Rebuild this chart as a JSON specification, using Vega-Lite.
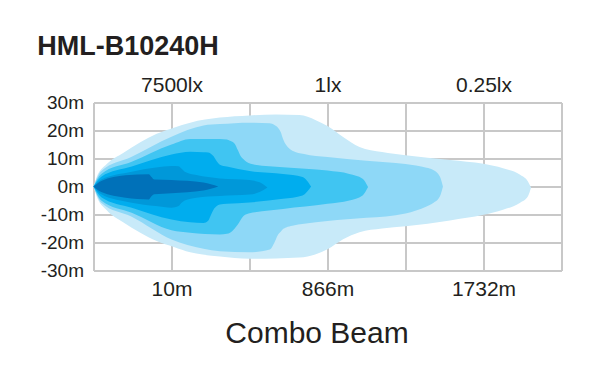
{
  "$schema": "https://vega.github.io/schema/vega-lite/v6.json",
  "width": 468,
  "height": 168,
  "autosize": {"type": "none"},
  "padding": {"left": 93.5, "top": 102.5, "right": 27.5, "bottom": 102.5},
  "background": "white",
  "title": {
    "text": "HML-B10240H",
    "anchor": "start",
    "frame": "bounds",
    "font": "Liberation Sans",
    "fontSize": 27,
    "fontWeight": "bold",
    "color": "#231f20",
    "baseline": "alphabetic",
    "offset": -7,
    "dx": -3
  },
  "config": {
    "view": {"stroke": null},
    "axis": {"labelFont": "Liberation Sans", "labelColor": "#231f20", "domain": false, "ticks": false, "gridColor": "#c8c8c8", "gridWidth": 2, "gridOpacity": 1, "labelOverlap": false}
  },
  "data": {
    "values": [
      {"layer": 1, "x": 0, "hi": 0, "lo": 0},
      {"layer": 1, "x": 0.04, "hi": 3.3, "lo": -3.5},
      {"layer": 1, "x": 0.17, "hi": 8, "lo": -8.5},
      {"layer": 1, "x": 0.38, "hi": 12, "lo": -12.8},
      {"layer": 1, "x": 0.6, "hi": 15.8, "lo": -16.5},
      {"layer": 1, "x": 0.81, "hi": 18.8, "lo": -19.5},
      {"layer": 1, "x": 1.03, "hi": 21, "lo": -21.6},
      {"layer": 1, "x": 1.24, "hi": 22.8, "lo": -23.5},
      {"layer": 1, "x": 1.62, "hi": 24.6, "lo": -25},
      {"layer": 1, "x": 2.0, "hi": 25.4, "lo": -25.8},
      {"layer": 1, "x": 2.34, "hi": 25.7, "lo": -25.7},
      {"layer": 1, "x": 2.64, "hi": 25.5, "lo": -25.4},
      {"layer": 1, "x": 2.85, "hi": 23.7, "lo": -24.2},
      {"layer": 1, "x": 3.0, "hi": 21.6, "lo": -22.4},
      {"layer": 1, "x": 3.2, "hi": 17.7, "lo": -18.8},
      {"layer": 1, "x": 3.41, "hi": 14.1, "lo": -16.3},
      {"layer": 1, "x": 3.7, "hi": 12.3, "lo": -15},
      {"layer": 1, "x": 4.0, "hi": 11.2, "lo": -14.2},
      {"layer": 1, "x": 4.57, "hi": 9.5, "lo": -12.1},
      {"layer": 1, "x": 5.0, "hi": 8.1, "lo": -10.1},
      {"layer": 1, "x": 5.25, "hi": 6.5, "lo": -8.3},
      {"layer": 1, "x": 5.47, "hi": 4.2, "lo": -5.8},
      {"layer": 1, "x": 5.57, "hi": 1.8, "lo": -3.5},
      {"layer": 1, "x": 5.61, "hi": -0.4, "lo": -0.4},

      {"layer": 2, "x": 0, "hi": 0, "lo": 0},
      {"layer": 2, "x": 0.1, "hi": 5.5, "lo": -5.8},
      {"layer": 2, "x": 0.49, "hi": 10.6, "lo": -10.8},
      {"layer": 2, "x": 1.0, "hi": 17.8, "lo": -18.9},
      {"layer": 2, "x": 1.41, "hi": 21.8, "lo": -22.2},
      {"layer": 2, "x": 1.62, "hi": 22.3, "lo": -23.1},
      {"layer": 2, "x": 2.0, "hi": 22.8, "lo": -23.5},
      {"layer": 2, "x": 2.26, "hi": 22.6, "lo": -22.5},
      {"layer": 2, "x": 2.32, "hi": 22, "lo": -20},
      {"layer": 2, "x": 2.36, "hi": 21.2, "lo": -17.5},
      {"layer": 2, "x": 2.4, "hi": 19.5, "lo": -16.2},
      {"layer": 2, "x": 2.43, "hi": 17, "lo": -15.2},
      {"layer": 2, "x": 2.47, "hi": 14.8, "lo": -14.6},
      {"layer": 2, "x": 2.55, "hi": 12.8, "lo": -14},
      {"layer": 2, "x": 2.7, "hi": 11.6, "lo": -13.3},
      {"layer": 2, "x": 3.0, "hi": 10.5, "lo": -12.3},
      {"layer": 2, "x": 3.5, "hi": 9.2, "lo": -11.2},
      {"layer": 2, "x": 4.0, "hi": 8, "lo": -9.6},
      {"layer": 2, "x": 4.27, "hi": 6.7, "lo": -7.1},
      {"layer": 2, "x": 4.35, "hi": 6, "lo": -6},
      {"layer": 2, "x": 4.44, "hi": 3.6, "lo": -3.6},
      {"layer": 2, "x": 4.48, "hi": 0, "lo": 0},

      {"layer": 3, "x": 0, "hi": 0, "lo": 0},
      {"layer": 3, "x": 0.1, "hi": 4.5, "lo": -5},
      {"layer": 3, "x": 0.49, "hi": 8.8, "lo": -9.4},
      {"layer": 3, "x": 1.0, "hi": 15, "lo": -15.6},
      {"layer": 3, "x": 1.24, "hi": 17, "lo": -16.5},
      {"layer": 3, "x": 1.62, "hi": 17, "lo": -17.1},
      {"layer": 3, "x": 1.71, "hi": 16.8, "lo": -16.9},
      {"layer": 3, "x": 1.75, "hi": 16.3, "lo": -16.5},
      {"layer": 3, "x": 1.81, "hi": 15.3, "lo": -15},
      {"layer": 3, "x": 1.85, "hi": 13, "lo": -13.6},
      {"layer": 3, "x": 1.88, "hi": 11.2, "lo": -12.2},
      {"layer": 3, "x": 1.92, "hi": 9.8, "lo": -10.6},
      {"layer": 3, "x": 1.96, "hi": 8.8, "lo": -9.9},
      {"layer": 3, "x": 2.07, "hi": 7.8, "lo": -9.2},
      {"layer": 3, "x": 2.43, "hi": 6.9, "lo": -8},
      {"layer": 3, "x": 3.0, "hi": 5.7, "lo": -6.2},
      {"layer": 3, "x": 3.28, "hi": 4.5, "lo": -5},
      {"layer": 3, "x": 3.45, "hi": 2.8, "lo": -3.2},
      {"layer": 3, "x": 3.52, "hi": -0.2, "lo": -0.2},

      {"layer": 4, "x": 0, "hi": 0, "lo": 0},
      {"layer": 4, "x": 0.1, "hi": 3.5, "lo": -3.8},
      {"layer": 4, "x": 0.49, "hi": 7.1, "lo": -7.6},
      {"layer": 4, "x": 1.0, "hi": 11.4, "lo": -11.8},
      {"layer": 4, "x": 1.24, "hi": 12.4, "lo": -12.8},
      {"layer": 4, "x": 1.41, "hi": 12.2, "lo": -13},
      {"layer": 4, "x": 1.47, "hi": 12.1, "lo": -12.2},
      {"layer": 4, "x": 1.5, "hi": 11.8, "lo": -10.5},
      {"layer": 4, "x": 1.54, "hi": 10.8, "lo": -8.2},
      {"layer": 4, "x": 1.58, "hi": 9, "lo": -7},
      {"layer": 4, "x": 1.62, "hi": 7.8, "lo": -6.4},
      {"layer": 4, "x": 1.71, "hi": 7.1, "lo": -6.2},
      {"layer": 4, "x": 2.0, "hi": 5.5, "lo": -5.7},
      {"layer": 4, "x": 2.43, "hi": 4.5, "lo": -4.4},
      {"layer": 4, "x": 2.68, "hi": 3.4, "lo": -3.2},
      {"layer": 4, "x": 2.79, "hi": 0, "lo": 0},

      {"layer": 5, "x": 0, "hi": 0, "lo": 0},
      {"layer": 5, "x": 0.1, "hi": 2.5, "lo": -2.8},
      {"layer": 5, "x": 0.49, "hi": 5.3, "lo": -5.8},
      {"layer": 5, "x": 0.8, "hi": 6.8, "lo": -7},
      {"layer": 5, "x": 1.0, "hi": 7.3, "lo": -7.6},
      {"layer": 5, "x": 1.09, "hi": 7.2, "lo": -7},
      {"layer": 5, "x": 1.13, "hi": 6.3, "lo": -5.8},
      {"layer": 5, "x": 1.17, "hi": 5.3, "lo": -5.0},
      {"layer": 5, "x": 1.32, "hi": 4.1, "lo": -4},
      {"layer": 5, "x": 1.62, "hi": 2.9, "lo": -3.4},
      {"layer": 5, "x": 2.0, "hi": 2.3, "lo": -2.9},
      {"layer": 5, "x": 2.13, "hi": 1.5, "lo": -2},
      {"layer": 5, "x": 2.23, "hi": -0.4, "lo": -0.4},

      {"layer": 6, "x": 0, "hi": 0, "lo": 0},
      {"layer": 6, "x": 0.1, "hi": 2, "lo": -2},
      {"layer": 6, "x": 0.41, "hi": 4.0, "lo": -4},
      {"layer": 6, "x": 0.71, "hi": 4.4, "lo": -4.6},
      {"layer": 6, "x": 0.74, "hi": 3.5, "lo": -3.6},
      {"layer": 6, "x": 0.78, "hi": 2.5, "lo": -2.8},
      {"layer": 6, "x": 1.0, "hi": 2.3, "lo": -2.4},
      {"layer": 6, "x": 1.41, "hi": 1.4, "lo": -1.4},
      {"layer": 6, "x": 1.6, "hi": 0, "lo": 0}
    ]
  },
  "encoding": {
    "y": {"field": "hi", "type": "quantitative", "stack": null, "scale": {"domain": [-30, 30], "nice": false},
      "axis": {"values": [-30, -20, -10, 0, 10, 20, 30], "grid": true, "labelFontSize": 19, "labelPadding": 10, "labelOverlap": false, "labelFlush": false, "labelExpr": "datum.value + 'm'", "title": null}},
    "y2": {"field": "lo"}
  },
  "resolve": {"axis": {"x": "independent"}},
  "layer": [
    {
      "transform": [{"filter": "datum.layer == 1"}],
      "mark": {"type": "area", "interpolate": "monotone", "color": "#c8eaf9"},
      "encoding": {
        "x": {"field": "x", "type": "quantitative", "scale": {"domain": [0, 6], "nice": false},
          "axis": {"orient": "bottom", "values": [0, 1, 2, 3, 4, 5, 6], "grid": true, "labelFontSize": 21, "labelPadding": 8, "labelFlush": false, "labelOverlap": false,
            "labelExpr": "datum.value == 1 ? '10m' : datum.value == 3 ? '866m' : datum.value == 5 ? '1732m' : ''",
            "title": "Combo Beam", "titleFont": "Liberation Sans", "titleFontSize": 30, "titleFontWeight": "normal", "titleColor": "#231f20",
            "titleX": 223, "titleY": 72, "titleAlign": "center", "titleBaseline": "alphabetic"}}
      }
    },
    {
      "transform": [{"filter": "datum.layer == 2"}],
      "mark": {"type": "area", "interpolate": "monotone", "color": "#8ed8f7"},
      "encoding": {
        "x": {"field": "x", "type": "quantitative",
          "axis": {"orient": "top", "values": [1, 3, 5], "grid": false, "labelFontSize": 21, "labelPadding": 7,
            "labelExpr": "datum.value == 1 ? '7500lx' : datum.value == 3 ? '1lx' : '0.25lx'", "title": null, "labelFlush": false}}
      }
    },
    {
      "transform": [{"filter": "datum.layer == 3"}],
      "mark": {"type": "area", "interpolate": "monotone", "color": "#40c5f2"},
      "encoding": {"x": {"field": "x", "type": "quantitative", "axis": null}}
    },
    {
      "transform": [{"filter": "datum.layer == 4"}],
      "mark": {"type": "area", "interpolate": "monotone", "color": "#00adee"},
      "encoding": {"x": {"field": "x", "type": "quantitative", "axis": null}}
    },
    {
      "transform": [{"filter": "datum.layer == 5"}],
      "mark": {"type": "area", "interpolate": "monotone", "color": "#0098d9"},
      "encoding": {"x": {"field": "x", "type": "quantitative", "axis": null}}
    },
    {
      "transform": [{"filter": "datum.layer == 6"}],
      "mark": {"type": "area", "interpolate": "monotone", "color": "#0071b9"},
      "encoding": {"x": {"field": "x", "type": "quantitative", "axis": null}}
    }
  ]
}
